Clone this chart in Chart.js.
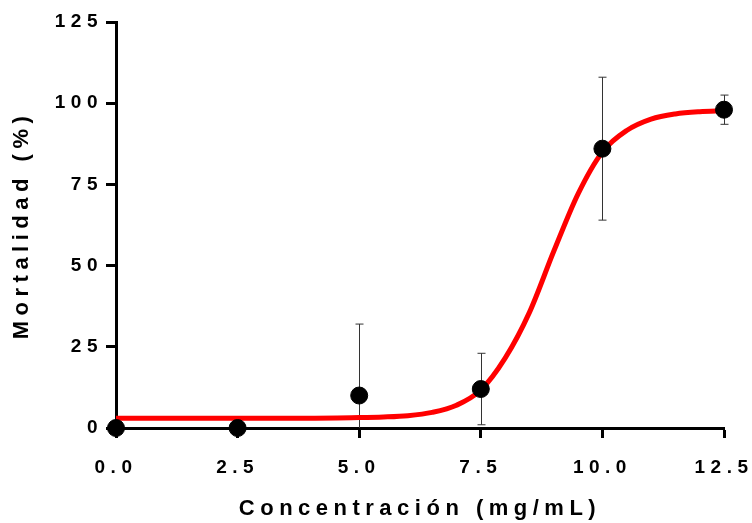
<!DOCTYPE html>
<html>
<head>
<meta charset="utf-8">
<script src="https://cdn.jsdelivr.net/npm/chart.js@4/dist/chart.umd.min.js"></script>
<style>
    html, body { margin: 0; padding: 0; background: #fff; }
    #wrap { width: 752px; height: 523px; }
</style>
</head>
<body>
<div id="wrap"><canvas id="myChart"></canvas></div>
<script>
// concentrations tested and mortality (mean, error)
const conc = [0, 2.5, 5, 7.5, 10, 12.5];
const mortality = [0, 0, 10, 12, 86, 98];
const errors = [0, 0, 22, 11, 22, 4.5];

// fitted dose-response curve
const fitX = [0, 1, 2, 3, 4, 5, 5.5, 6, 6.5, 7, 7.5, 8, 8.5, 9, 9.5, 10, 10.5, 11, 11.5, 12, 12.5];
const fitY = [3, 3, 3, 3, 3, 3.2, 3.4, 3.8, 4.8, 7, 11.7, 21.5, 35.6, 54.4, 72.1, 85, 91.6, 95.1, 96.7, 97.4, 97.7];

const xTicks = [0, 2.5, 5, 7.5, 10, 12.5];
const yTicks = [0, 25, 50, 75, 100, 125];

const spacing = '5.5px';

// canvas letter spacing gets reset whenever the canvas is resized
const spacingPlugin = {
    id: 'spacing',
    beforeLayout: (chart) => { chart.ctx.letterSpacing = spacing; },
    beforeDraw: (chart) => { chart.ctx.letterSpacing = spacing; }
};

const errorBars = {
    id: 'errorBars',
    beforeDatasetsDraw: (chart) => {
        const ctx = chart.ctx;
        const xs = chart.scales.x;
        const ys = chart.scales.y;
        const area = chart.chartArea;
        ctx.save();
        ctx.beginPath();
        ctx.rect(area.left - 10, area.top - 10, area.right - area.left + 20, area.bottom - area.top + 10);
        ctx.clip();
        ctx.strokeStyle = '#333';
        ctx.lineWidth = 1;
        conc.forEach((c, i) => {
            if (!errors[i]) return;
            const x = Math.round(xs.getPixelForValue(c)) + 0.5;
            const top = ys.getPixelForValue(mortality[i] + errors[i]);
            const bot = ys.getPixelForValue(mortality[i] - errors[i]);
            ctx.beginPath();
            ctx.moveTo(x, top);
            ctx.lineTo(x, bot);
            ctx.moveTo(x - 4, top);
            ctx.lineTo(x + 4, top);
            ctx.moveTo(x - 4, bot);
            ctx.lineTo(x + 4, bot);
            ctx.stroke();
        });
        ctx.restore();
    }
};

const tickFont = { family: '"Liberation Sans", Arial, sans-serif', size: 19, weight: 'bold' };
const titleFont = { family: '"Liberation Sans", Arial, sans-serif', size: 22, weight: 'bold' };

new Chart("myChart", {
    type: 'scatter',
    data: {
        datasets: [{
            data: conc.map((c, i) => ({ x: c, y: mortality[i] })),
            backgroundColor: '#000',
            borderColor: '#000',
            pointRadius: 8.5,
            pointHoverRadius: 8.5,
            clip: false,
            order: 0
        }, {
            type: 'line',
            data: fitX.map((c, i) => ({ x: c, y: fitY[i] })),
            borderColor: '#ff0000',
            borderWidth: 5,
            pointRadius: 0,
            cubicInterpolationMode: 'monotone',
            fill: false,
            order: 1
        }]
    },
    options: {
        responsive: true,
        maintainAspectRatio: false,
        animation: false,
        layout: { padding: { left: 0, right: 28, top: 22, bottom: 0 } },
        plugins: {
            legend: { display: false },
            tooltip: { enabled: false }
        },
        scales: {
            x: {
                type: 'linear',
                min: 0,
                max: 12.5,
                afterBuildTicks: (s) => { s.ticks = xTicks.map(v => ({ value: v })); },
                afterFit: (s) => { s.height = 95; s.paddingLeft = 0; s.paddingRight = 0; },
                ticks: {
                    color: '#000',
                    font: tickFont,
                    padding: 18,
                    maxRotation: 0,
                    callback: (v) => v.toFixed(1)
                },
                grid: { drawOnChartArea: false, tickLength: 10, tickWidth: 3, tickColor: '#000' },
                border: { width: 3, color: '#000' },
                title: {
                    display: true,
                    text: 'Concentración (mg/mL)',
                    color: '#000',
                    font: titleFont,
                    padding: { top: 0, bottom: 1 }
                }
            },
            y: {
                min: 0,
                max: 125,
                afterBuildTicks: (s) => { s.ticks = yTicks.map(v => ({ value: v })); },
                afterFit: (s) => { s.width = 116; s.paddingTop = 0; s.paddingBottom = 0; },
                ticks: {
                    color: '#000',
                    font: tickFont,
                    padding: 3
                },
                grid: { drawOnChartArea: false, tickLength: 10, tickWidth: 3, tickColor: '#000' },
                border: { width: 3, color: '#000' },
                title: {
                    display: true,
                    text: 'Mortalidad (%)',
                    color: '#000',
                    font: titleFont,
                    padding: { top: 9, bottom: 0 }
                }
            }
        }
    },
    plugins: [spacingPlugin, errorBars]
});
</script>
</body>
</html>
